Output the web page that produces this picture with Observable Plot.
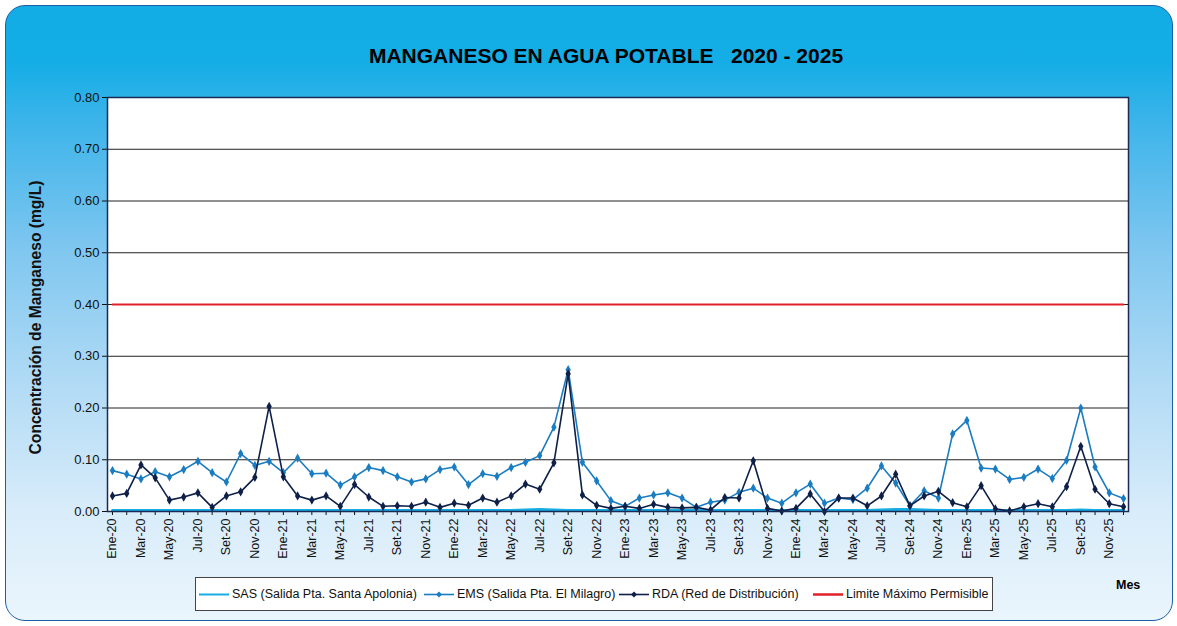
<!DOCTYPE html>
<html>
<head>
<meta charset="utf-8">
<script src="https://cdn.jsdelivr.net/npm/d3@7"></script>
<script src="https://cdn.jsdelivr.net/npm/@observablehq/plot@0.6"></script>
<style>
  html, body { margin: 0; padding: 0; background: #ffffff; }
  #wrap {
    position: relative; width: 1177px; height: 626px; overflow: hidden;
    font-family: "Liberation Sans", Arial, sans-serif;
  }
  #card {
    position: absolute; left: 5px; top: 5px; width: 1168px; height: 616px;
    border: 1.5px solid #1b5fa6; border-radius: 20px; box-sizing: border-box;
    background: linear-gradient(to bottom, #13ade6 0%, #14ade6 9%, #40b5ea 20%, #80c7f0 40%, #b2dbf5 62%, #d8ecfa 82%, #eaf5fc 100%);
  }
  #title {
    position: absolute; top: 44px; left: 0; width: 1212px; text-align: center;
    font-weight: bold; font-size: 21px; color: #000; white-space: pre;
  }
  #chart { position: absolute; left: 0; top: 0; }
  #legend {
    position: absolute; left: 195px; top: 577px; width: 798px; height: 34px;
    background: #fff; border: 1px solid #444; box-sizing: border-box;
    font-size: 12.5px; color: #111;
  }
  .item { position: absolute; top: 0; height: 32px; display: flex; align-items: center; white-space: nowrap; }
  .item svg { margin-right: 3px; }
  #mes { position: absolute; left: 1116px; top: 578px; font-weight: bold; font-size: 12.5px; }
</style>
</head>
<body>
<div id="wrap">
  <div id="card"></div>
  <div id="title">MANGANESO EN AGUA POTABLE   2020 - 2025</div>
  <div id="chart"></div>
  <div id="legend"></div>
  <div id="mes">Mes</div>
</div>
<script>
// ---- Data ----
const monthNames = ["Ene","Feb","Mar","Abr","May","Jun","Jul","Ago","Set","Oct","Nov","Dic"];
const years = ["20","21","22","23","24","25"];
const months = years.flatMap(y => monthNames.map(m => `${m}-${y}`));

const sas = [
  0.002,0.002,0.002,0.002,0.002,0.002,0.002,0.002,0.002,0.002,0.002,0.002,
  0.002,0.002,0.002,0.002,0.002,0.002,0.002,0.002,0.002,0.002,0.002,0.002,
  0.002,0.002,0.002,0.002,0.002,0.003,0.004,0.003,0.002,0.002,0.002,0.002,
  0.002,0.002,0.002,0.002,0.002,0.002,0.002,0.002,0.002,0.002,0.002,0.002,
  0.002,0.002,0.002,0.002,0.002,0.002,0.003,0.004,0.004,0.003,0.002,0.002,
  0.002,0.002,0.002,0.002,0.002,0.002,0.002,0.002,0.003,0.002,0.002,0.002
];
const ems = [
  0.079,0.072,0.063,0.077,0.067,0.081,0.097,0.075,0.057,0.112,0.089,0.097,
  0.075,0.103,0.073,0.074,0.051,0.067,0.085,0.079,0.067,0.057,0.063,0.081,
  0.086,0.052,0.073,0.068,0.085,0.095,0.108,0.163,0.274,0.095,0.059,0.021,
  0.010,0.026,0.032,0.036,0.026,0.008,0.018,0.022,0.037,0.045,0.026,0.016,
  0.036,0.053,0.016,0.026,0.023,0.045,0.088,0.055,0.011,0.040,0.026,0.150,
  0.176,0.084,0.082,0.062,0.066,0.082,0.064,0.099,0.200,0.086,0.036,0.025
];
const rda = [
  0.030,0.035,0.090,0.065,0.022,0.028,0.036,0.008,0.030,0.038,0.066,0.203,
  0.067,0.030,0.022,0.030,0.010,0.052,0.028,0.010,0.011,0.010,0.018,0.008,
  0.016,0.012,0.026,0.018,0.030,0.053,0.043,0.094,0.266,0.032,0.012,0.006,
  0.010,0.006,0.014,0.008,0.007,0.008,0.003,0.027,0.026,0.098,0.006,0.001,
  0.006,0.034,0.000,0.026,0.026,0.011,0.030,0.072,0.011,0.030,0.039,0.017,
  0.009,0.050,0.005,0.001,0.009,0.015,0.009,0.048,0.126,0.043,0.015,0.009
];
const limitValue = 0.40;
const yTicks = [0,0.1,0.2,0.3,0.4,0.5,0.6,0.7,0.8];
const yTitle = "Concentración de Manganeso (mg/L)";

const seriesNames = ["SAS (Salida Pta. Santa Apolonia)", "EMS (Salida Pta. El Milagro)", "RDA (Red de Distribución)", "Limite Máximo Permisible"];
const seriesColors = ["#16acE4", "#1a7cc1", "#0e1f48", "#e3202a"];

// ---- Build tables ----
const sasData = months.map((m, i) => ({m, v: sas[i]}));
const emsData = months.map((m, i) => ({m, v: ems[i]}));
const rdaData = months.map((m, i) => ({m, v: rda[i]}));
const limData = months.map(m => ({m, v: limitValue}));

const chart = Plot.plot({
  width: 1177,
  height: 580,
  marginLeft: 107,
  marginRight: 49,
  marginTop: 97,
  marginBottom: 69,
  style: {background: "transparent", fontFamily: "'Liberation Sans', Arial, sans-serif", fontSize: "12.5px", color: "#111", overflow: "visible"},
  x: {type: "point", domain: months, padding: 0.35, round: false},
  y: {domain: [0, 0.8]},
  marks: [
    Plot.frame({fill: "white", stroke: null}),
    Plot.gridY({ticks: yTicks, stroke: "#222", strokeOpacity: 1, strokeWidth: 1}),
    Plot.axisY({ticks: yTicks, tickFormat: d3.format(".2f"), tickSize: 5, tickPadding: 3, label: null, fontSize: 13}),
    Plot.text([yTitle], {text: d => d, frameAnchor: "left", textAnchor: "middle", dx: -72, dy: 13, rotate: -90, fontWeight: "bold", fontSize: 15.6, fill: "#111"}),
    Plot.axisX({ticks: months, tickFormat: (d, i) => (i % 2 === 0 ? d : ""), tickRotate: -90, tickSize: 4, tickPadding: 3, label: null, fontSize: 12.5}),
    Plot.line(limData, {x: "m", y: "v", stroke: seriesColors[3], strokeWidth: 2}),
    Plot.line(sasData, {x: "m", y: "v", stroke: seriesColors[0], strokeWidth: 3}),
    Plot.line(emsData, {x: "m", y: "v", stroke: seriesColors[1], strokeWidth: 1.6}),
    Plot.dot(emsData, {x: "m", y: "v", fill: seriesColors[1], symbol: "diamond", r: 2.8}),
    Plot.line(rdaData, {x: "m", y: "v", stroke: seriesColors[2], strokeWidth: 1.6}),
    Plot.dot(rdaData, {x: "m", y: "v", fill: seriesColors[2], symbol: "diamond", r: 2.8}),
    Plot.frame({stroke: "#1b2a55", strokeWidth: 1.5})
  ]
});
document.getElementById("chart").appendChild(chart);

// ---- Legend ----
const legend = document.getElementById("legend");
const legendLeft = [3, 228, 423, 617]; // item offsets within the legend box
seriesNames.forEach((name, i) => {
  const item = document.createElement("div");
  item.className = "item";
  item.style.left = legendLeft[i] + "px";
  const marker = (i === 1 || i === 2) ? `<path d="M15 1.5 L18 4.5 L15 7.5 L12 4.5 Z" fill="${seriesColors[i]}"/>` : "";
  item.innerHTML = `<svg width="30" height="9"><line x1="0" x2="30" y1="4.5" y2="4.5" stroke="${seriesColors[i]}" stroke-width="${i === 0 ? 2 : i === 3 ? 2.5 : 1.6}"/>${marker}</svg><span>${name}</span>`;
  legend.appendChild(item);
});
</script>
</body>
</html>
